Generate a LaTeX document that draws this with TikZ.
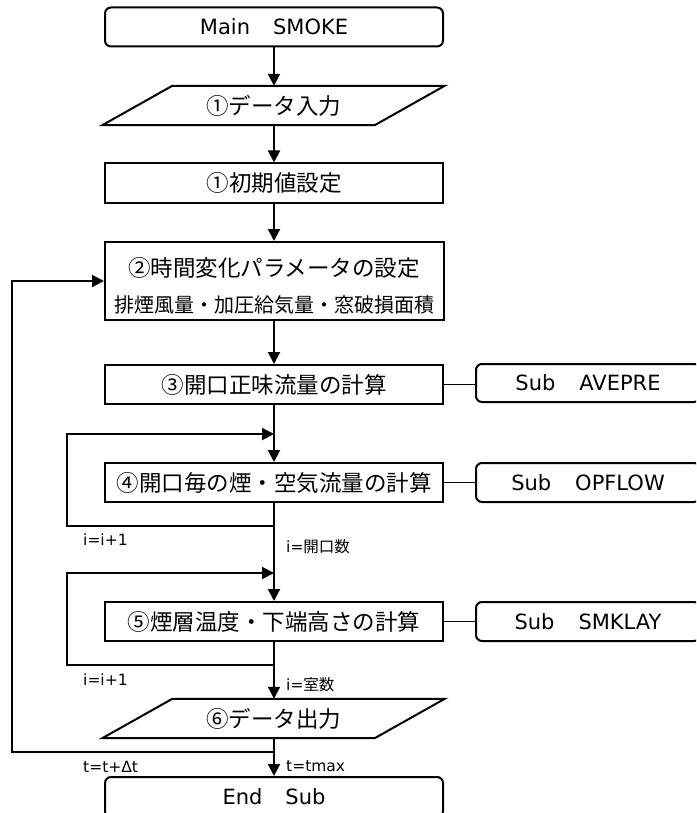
\documentclass[tikz,border=0pt]{standalone}
\usepackage{fontspec}
\setmainfont{DejaVu Sans}
\newfontfamily\jp{Noto Sans CJK JP}
\usetikzlibrary{arrows.meta}
\tikzset{
  box/.style={draw, line width=2pt, rectangle, minimum width=338pt, minimum height=39pt, inner sep=0pt, anchor=center},
  rbox/.style={box, rounded corners=6pt},
  subbox/.style={draw, line width=2pt, rectangle, rounded corners=6pt, minimum width=224pt, minimum height=38pt, inner sep=0pt, font=\fontsize{21}{24}\selectfont},
  para/.style={rectangle, minimum width=272pt, minimum height=39pt, inner sep=0pt},
  flow/.style={line width=2pt},
  flowarrow/.style={line width=2pt, -{Triangle[length=12pt,width=12pt]}},
  thin/.style={line width=1pt},
  lat/.style={font=\fontsize{21}{24}\selectfont},
  jpbig/.style={font=\jp\fontsize{22.5}{25}\selectfont},
  jpsmall/.style={font=\jp\fontsize{20}{22}\selectfont},
  lbl/.style={font=\fontsize{15.5}{18}\selectfont, anchor=west, inner sep=0pt}
}
\begin{document}
\begin{tikzpicture}[x=1pt,y=-1pt]
\useasboundingbox (0,0) rectangle (696,813);
\begin{scope}
\clip (0,0) rectangle (696,813);
% nodes
\node[rbox, lat] (main) at (274,27) {Main\hspace{23pt}SMOKE};
\node[para, jpbig] (in) at (273.5,105.5) {①データ入力};
\draw[line width=2pt] ([xshift=35pt]in.north west) -- ([xshift=35pt]in.north east) -- ([xshift=-35pt]in.south east) -- ([xshift=-35pt]in.south west) -- cycle;
\node[box, jpbig] (init) at (274,183) {①初期値設定};
\node[box, minimum height=78pt, minimum width=339pt] (param) at (274.5,281) {};
\node[jpbig, inner sep=0pt] (p1) at (274,268) {②時間変化パラメータの設定};
\node[jpsmall, inner sep=0pt] (p2) at (274,305) {排煙風量・加圧給気量・窓破損面積};
\node[box, jpbig] (calc3) at (274,384.5) {③開口正味流量の計算};
\node[subbox] (sub1) at (588,383) {Sub\hspace{24pt}AVEPRE};
\node[box, jpbig] (op4) at (274,482.5) {④開口毎の煙・空気流量の計算};
\node[subbox, minimum height=39pt] (sub2) at (588,482.5) {Sub\hspace{24pt}OPFLOW};
\node[box, jpbig] (sm5) at (274,621.5) {⑤煙層温度・下端高さの計算};
\node[subbox, minimum height=39pt] (sub3) at (588,621.5) {Sub\hspace{24pt}SMKLAY};
\node[para, jpbig] (out) at (273.5,718.5) {⑥データ出力};
\draw[line width=2pt] ([xshift=35pt]out.north west) -- ([xshift=35pt]out.north east) -- ([xshift=-35pt]out.south east) -- ([xshift=-35pt]out.south west) -- cycle;
\node[rbox, lat, minimum height=40pt] (end) at (274,797) {End\hspace{23pt}Sub};
% coordinates
\coordinate (j4) at (274,434);
\coordinate (r4) at (274,526);
\coordinate (k4) at (67,526);
\coordinate (j5) at (274,573);
\coordinate (r5) at (274,665);
\coordinate (k5) at (67,665);
\coordinate (r6) at (274,752);
\coordinate (k6) at (12,752);
% main flow
\draw[flowarrow] (main.south) -- (main.south |- in.north);
\draw[flowarrow] (main.south |- in.south) -- (init.north);
\draw[flowarrow] (init.south) -- (init.south |- param.north);
\draw[flowarrow] (init.south |- param.south) -- (calc3.north);
\draw[flowarrow] (calc3.south) -- (op4.north);
\draw[flowarrow] (op4.south) -- (sm5.north);
\draw[flowarrow] (sm5.south) -- (sm5.south |- out.north);
\draw[flowarrow] (sm5.south |- out.south) -- (end.north);
% loops
\draw[flowarrow] (r4) -- (k4) |- (j4);
\draw[flowarrow] (r5) -- (k5) |- (j5);
\draw[flowarrow] (r6) -- (k6) |- (param.west);
% sub connectors
\draw[thin] (calc3.east) -- (calc3.east -| sub1.west);
\draw[thin] (op4.east) -- (op4.east -| sub2.west);
\draw[thin] (sm5.east) -- (sm5.east -| sub3.west);
% labels
\node[lbl] (l1) at (83,540) {i=i+1};
\node[lbl] (l2) at (286,547) {i={\jp 開口数}};
\node[lbl] (l3) at (83,680) {i=i+1};
\node[lbl] (l4) at (286,685) {i={\jp 室数}};
\node[lbl] (l5) at (83,767) {t=t+Δt};
\node[lbl] (l6) at (286,766) {t=tmax};
\end{scope}
\end{tikzpicture}
\end{document}
